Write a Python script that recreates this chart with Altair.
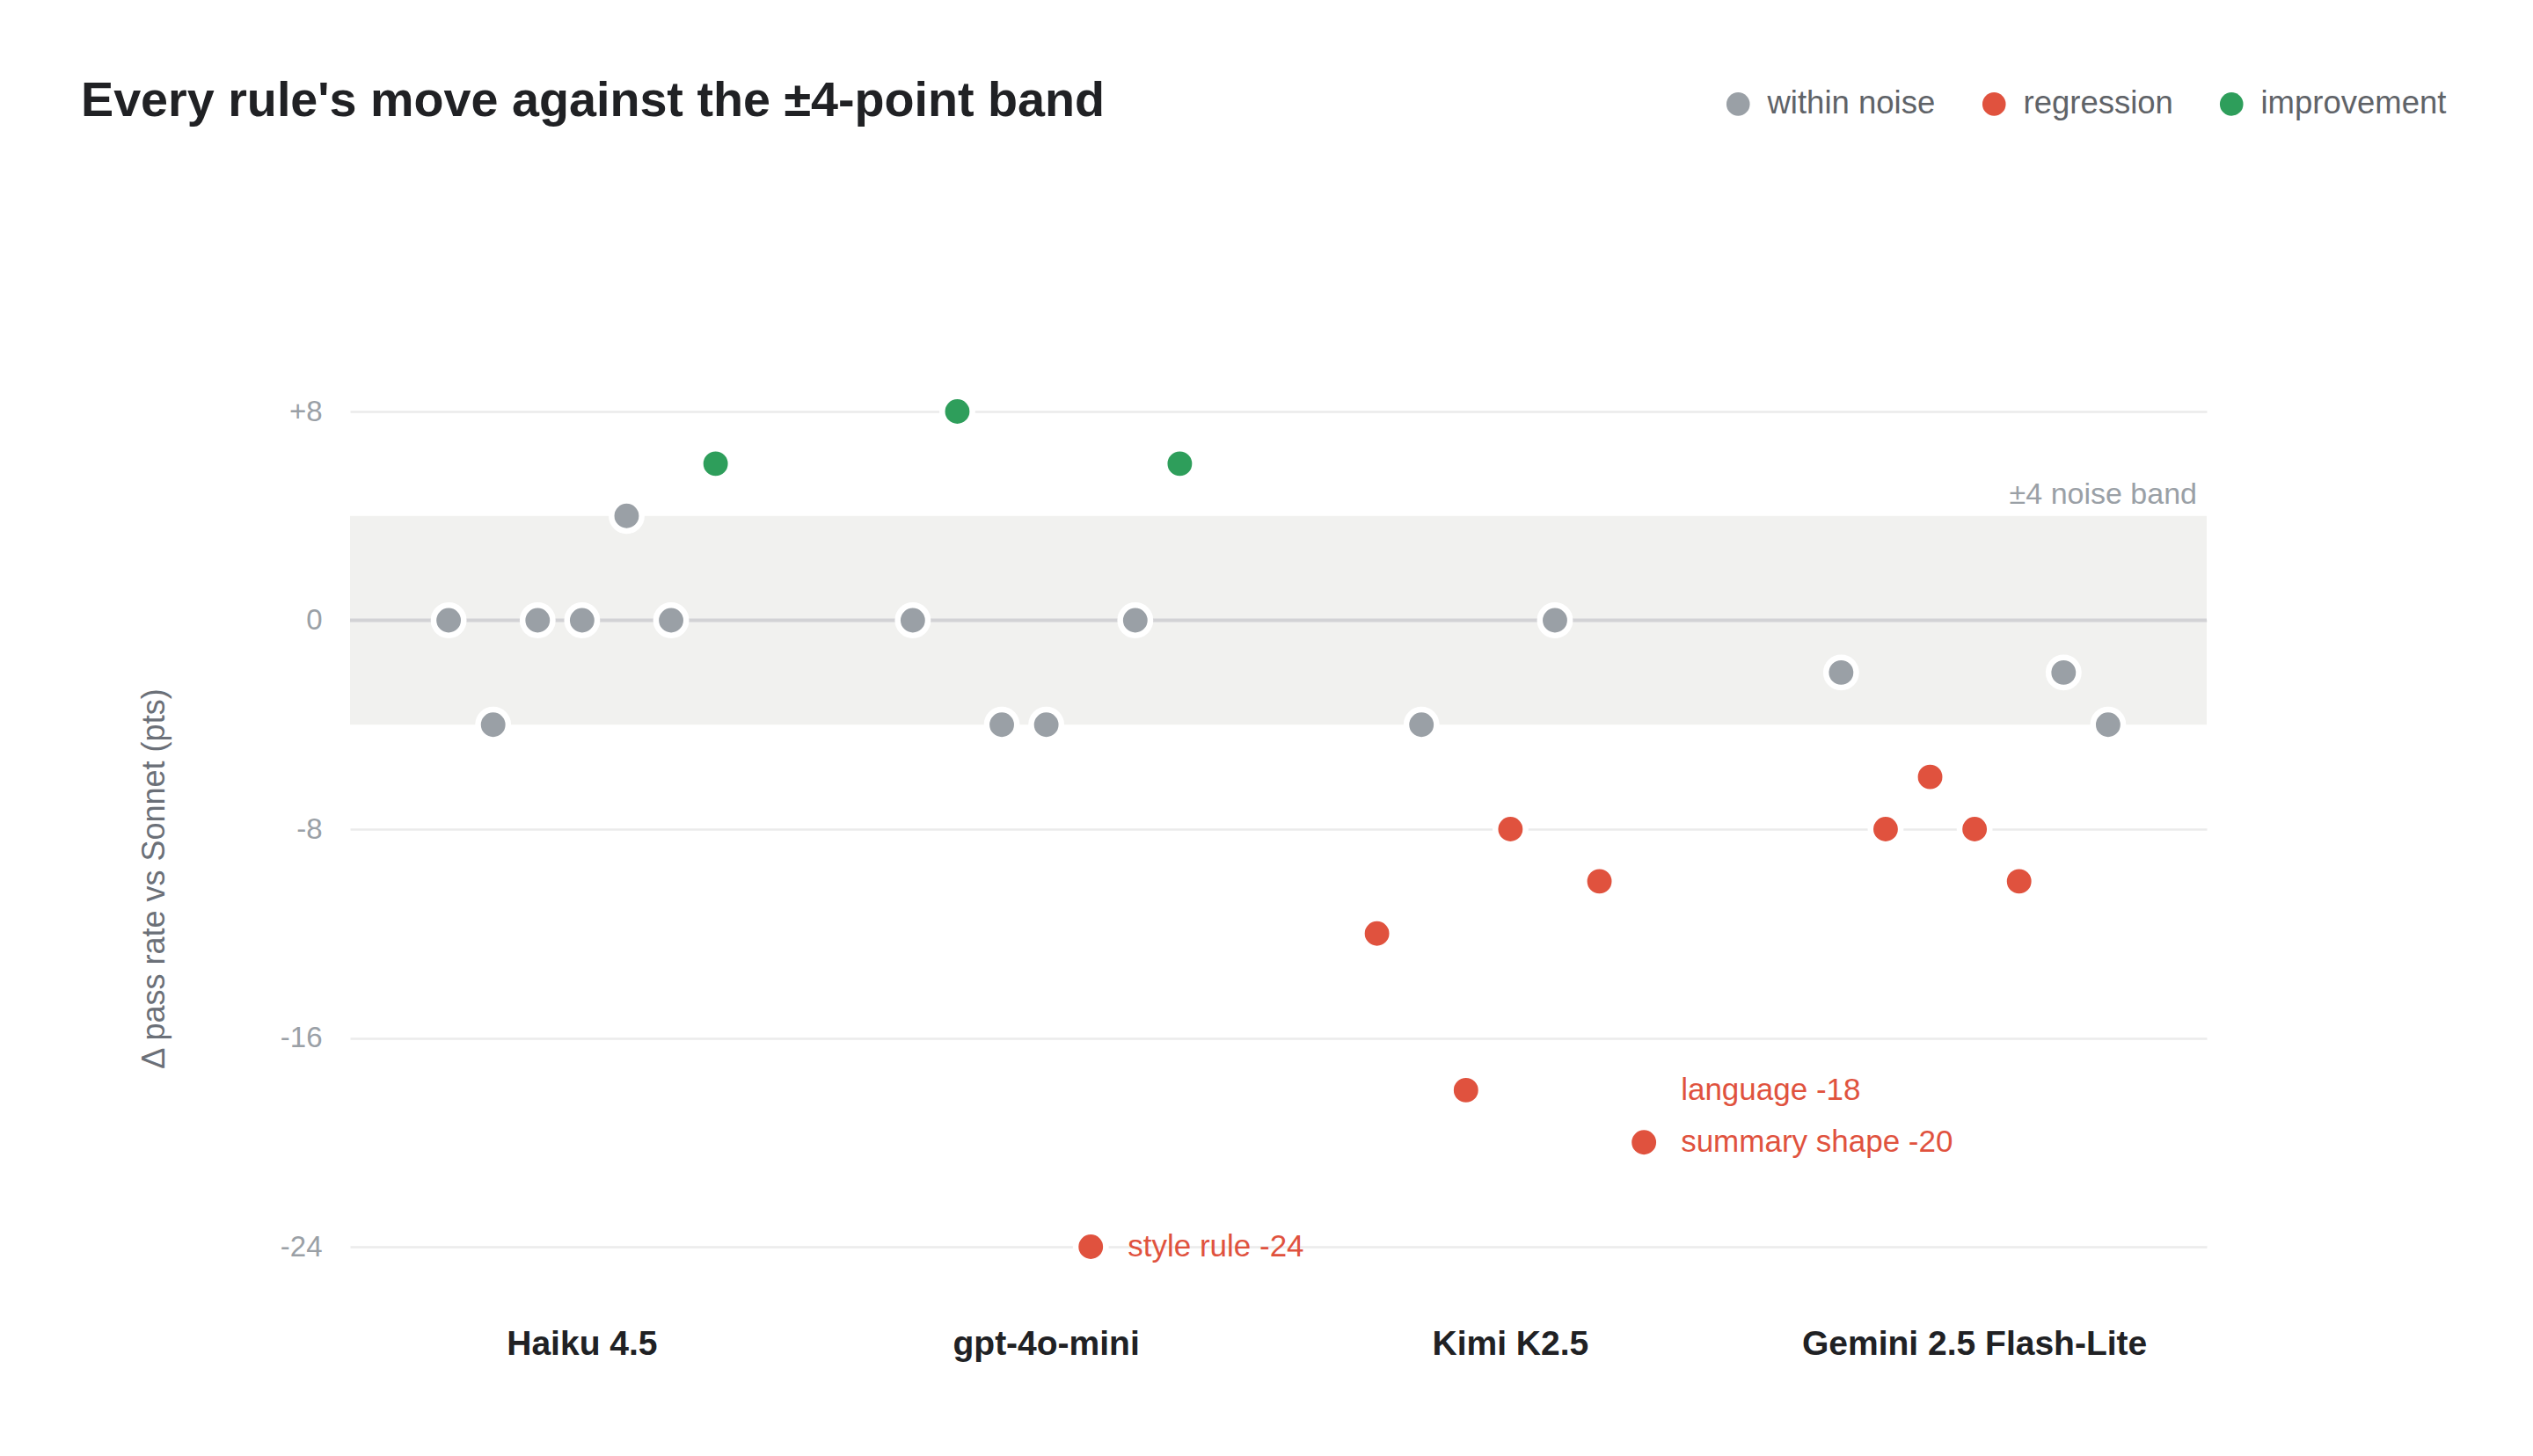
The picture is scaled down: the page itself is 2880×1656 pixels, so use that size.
import altair as alt
import pandas as pd

# ---------------- data ----------------
models = ["Haiku 4.5", "gpt-4o-mini", "Kimi K2.5", "Gemini 2.5 Flash-Lite"]
rules = ["rule 1", "rule 2", "language", "rule 4", "style rule", "rule 6", "summary shape"]

haiku_delta = [0, -4, 0, 0, 4, 0, 6]
gpt4omini_delta = [0, 8, -4, -4, -24, 0, 6]
kimi_delta = [-12, -4, -18, -8, 0, -10, -20]
gemini_delta = [-2, -8, -6, -8, -10, -2, -4]

noise_band = 4
categories = ["within noise", "regression", "improvement"]
category_colors = ["#9aa0a6", "#e0523e", "#2e9e5b"]

y_ticks = [-24, -16, -8, 0, 8]

annot_models = ["gpt-4o-mini", "Kimi K2.5", "Kimi K2.5"]
annot_anchor_rules = ["style rule", "summary shape", "summary shape"]
annot_values = [-24, -18, -20]
annot_texts = ["style rule -24", "language -18", "summary shape -20"]

title_text = "Every rule's move against the \u00b14-point band"
y_title = "\u0394 pass rate vs Sonnet (pts)"
band_label = "\u00b14 noise band"


def classify(d):
    if d > noise_band:
        return "improvement"
    if d < -noise_band:
        return "regression"
    return "within noise"


rows = []
for m, deltas in zip(models, [haiku_delta, gpt4omini_delta, kimi_delta, gemini_delta]):
    for r, d in zip(rules, deltas):
        rows.append({"model": m, "rule": r, "delta": d, "category": classify(d)})
points_df = pd.DataFrame(rows)

annot_df = pd.DataFrame({
    "model": annot_models,
    "rule": annot_anchor_rules,
    "delta": annot_values,
    "label": annot_texts,
})

band_df = pd.DataFrame({"delta": [-noise_band], "hi": [noise_band]})
zero_df = pd.DataFrame({"delta": [0]})
band_label_df = pd.DataFrame({"delta": [noise_band], "label": [band_label]})

# ---------------- styling ----------------
FONT = "Liberation Sans"
W, H = 2111, 950

y_axis = alt.Axis(
    values=y_ticks,
    labelExpr="datum.value > 0 ? '+' + datum.value : '' + datum.value",
    labelFontSize=33,
    labelColor="#9aa0a6",
    labelPadding=32,
    ticks=False,
    tickSize=0,
    domain=False,
    grid=True,
    gridColor="#ebebeb",
    gridWidth=2.5,
    titleFontSize=36,
    titleFontWeight="normal",
    titleColor="#6b7078",
    titleX=-223,
    titleY=531,
    titleAlign="center",
    titleBaseline="middle",
    titleAngle=270,
)
y_scale = alt.Scale(domain=[-24, 8], nice=False, zero=False)


def Y(field="delta:Q"):
    return alt.Y(field, scale=y_scale, axis=y_axis, title=y_title)


x_enc = alt.X(
    "model:N",
    sort=models,
    scale=alt.Scale(type="band", paddingInner=0.329, paddingOuter=0.1645),
    axis=alt.Axis(
        labelFontSize=39,
        labelFontWeight="bold",
        labelColor="#202124",
        labelPadding=91,
        labelAngle=0,
        labelLimit=1000,
        ticks=False,
        tickSize=0,
        domain=False,
        grid=False,
    ),
    title=None,
)
xoff_enc = alt.XOffset(
    "rule:N",
    sort=rules,
    scale=alt.Scale(type="band", paddingInner=0, paddingOuter=0),
)

band = alt.Chart(band_df).mark_rect(color="#f1f1ef").encode(
    y=Y(), y2="hi:Q"
)

zero_line = alt.Chart(zero_df).mark_rule(color="#d2d2d5", strokeWidth=4).encode(
    y=Y()
)

band_text = alt.Chart(band_label_df).mark_text(
    align="right", baseline="alphabetic", dx=-11, dy=-14,
    fontSize=34, color="#9aa0a6", font=FONT,
).encode(
    x=alt.value("width"),
    y=Y(),
    text="label:N",
)

pts = alt.Chart(points_df).mark_circle(
    size=1180, stroke="white", strokeWidth=6.5, opacity=1
).encode(
    x=x_enc,
    xOffset=xoff_enc,
    y=Y(),
    color=alt.Color(
        "category:N",
        scale=alt.Scale(domain=categories, range=category_colors),
        legend=alt.Legend(
            title=None,
            orient="none",
            direction="horizontal",
            legendX=1560,
            legendY=-368,
            symbolType="circle",
            symbolSize=707,
            symbolStrokeWidth=0,
            symbolOpacity=1,
            labelFontSize=36.5,
            labelColor="#5f6368",
            labelOffset=15,
            labelLimit=1000,
            columnPadding=48,
            padding=0,
        ),
    ),
)

annots = alt.Chart(annot_df).mark_text(
    align="left", baseline="middle", dx=42, fontSize=35, color="#e0523e", font=FONT
).encode(
    x=x_enc,
    xOffset=xoff_enc,
    y=Y(),
    text="label:N",
)

chart = alt.layer(band, zero_line, band_text, pts, annots).properties(
    width=W,
    height=H,
    autosize=alt.AutoSizeParams(type="none"),
    padding={"left": 398, "top": 468, "right": 371, "bottom": 238},
    title=alt.Title(
        title_text,
        anchor="start",
        fontSize=55.7,
        fontWeight="bold",
        color="#202124",
        font=FONT,
        dx=-65,
        dy=48,
    ),
).configure(
    font=FONT,
    background="white",
).configure_view(
    stroke=None,
)

chart.save("out.html", embed_options={"renderer": "svg", "actions": False})
